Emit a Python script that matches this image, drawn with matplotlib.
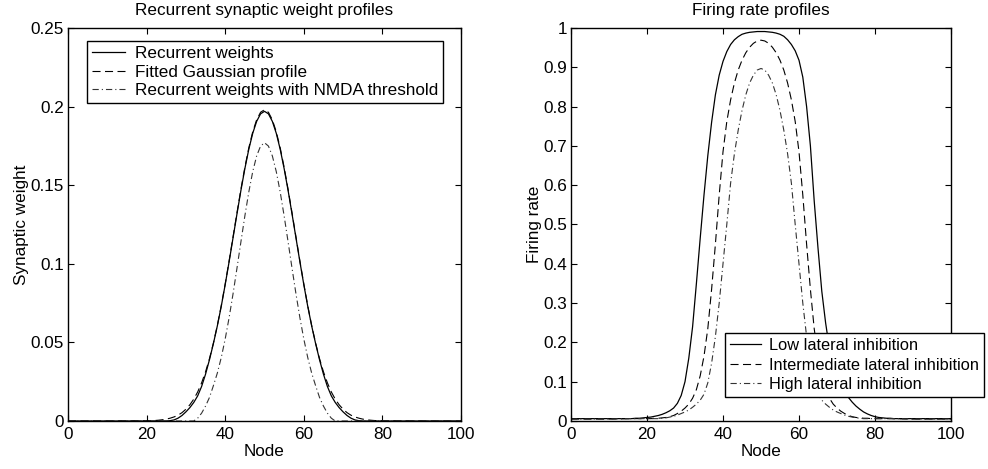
import numpy as np
import matplotlib
matplotlib.use("Agg")
import matplotlib.pyplot as plt
from matplotlib.ticker import FuncFormatter

plt.rcParams['font.family'] = ['Liberation Sans', 'DejaVu Sans']
plt.rcParams['lines.scale_dashes'] = False

# ---------------- Left panel data ----------------
left_nodes = np.concatenate(([0, 10], np.arange(20, 81), [90, 100]))

weights_recurrent = [0, 0,
    0, 0, 0, 0, 0, 0, 0.0002, 0.0007, 0.0018, 0.0035,
    0.0058, 0.0085, 0.0118, 0.0160, 0.0220, 0.0298, 0.0390, 0.0493, 0.0605, 0.0730,
    0.0868, 0.1014, 0.1166, 0.1318, 0.1467, 0.1605, 0.1728, 0.1830, 0.1906, 0.1954,
    0.1970,
    0.1954, 0.1906, 0.1830, 0.1728, 0.1605, 0.1467, 0.1318, 0.1166, 0.1014, 0.0868,
    0.0730, 0.0605, 0.0493, 0.0390, 0.0298, 0.0220, 0.0160, 0.0118, 0.0085, 0.0058,
    0.0035, 0.0018, 0.0007, 0.0002, 0, 0, 0, 0, 0, 0,
    0, 0]

weights_gaussian = [0, 0,
    0.0001, 0.0002, 0.0003, 0.0005, 0.0008, 0.0012, 0.0018, 0.0026, 0.0037, 0.0053,
    0.0075, 0.0103, 0.0139, 0.0185, 0.0243, 0.0313, 0.0397, 0.0496, 0.0608, 0.0734,
    0.0872, 0.1019, 0.1172, 0.1325, 0.1474, 0.1613, 0.1737, 0.1839, 0.1916, 0.1964,
    0.1980,
    0.1964, 0.1916, 0.1839, 0.1737, 0.1613, 0.1474, 0.1325, 0.1172, 0.1019, 0.0872,
    0.0734, 0.0608, 0.0496, 0.0397, 0.0313, 0.0243, 0.0185, 0.0139, 0.0103, 0.0075,
    0.0053, 0.0037, 0.0026, 0.0018, 0.0012, 0.0008, 0.0005, 0.0003, 0.0002, 0.0001,
    0, 0]

weights_nmda = [0, 0,
    0, 0, 0, 0, 0, 0, 0, 0, 0, 0,
    0, 0, 0, 0.0018, 0.0050, 0.0095, 0.0150, 0.0225, 0.0305, 0.0404,
    0.0522, 0.0658, 0.0810, 0.0973, 0.1140, 0.1304, 0.1456, 0.1586, 0.1686, 0.1749,
    0.1770,
    0.1749, 0.1686, 0.1586, 0.1456, 0.1304, 0.1140, 0.0973, 0.0810, 0.0658, 0.0522,
    0.0404, 0.0305, 0.0225, 0.0150, 0.0095, 0.0050, 0.0018, 0, 0, 0,
    0, 0, 0, 0, 0, 0, 0, 0, 0, 0,
    0, 0]

left_labels = ['Recurrent weights', 'Fitted Gaussian profile',
               'Recurrent weights with NMDA threshold']

# ---------------- Right panel data ----------------
right_nodes = np.concatenate(([0, 5, 10], np.arange(15, 86), [90, 95, 100]))

rate_low = [0.006, 0.006, 0.006,
    0.006, 0.006, 0.007, 0.007, 0.008,
    0.009, 0.010, 0.012, 0.014, 0.017, 0.021, 0.026, 0.033, 0.045, 0.065,
    0.100, 0.160, 0.240, 0.350, 0.465, 0.575, 0.675, 0.760, 0.830, 0.880,
    0.915, 0.940, 0.958, 0.970, 0.978, 0.984, 0.987, 0.989, 0.990, 0.991,
    0.991, 0.991, 0.990, 0.989, 0.987, 0.984, 0.979, 0.970, 0.958, 0.942,
    0.918, 0.875, 0.800, 0.700, 0.560, 0.440, 0.330, 0.250, 0.185, 0.140,
    0.110, 0.088, 0.072, 0.060, 0.048, 0.038, 0.030, 0.023, 0.018, 0.014,
    0.011, 0.009, 0.008, 0.007, 0.007, 0.006,
    0.006, 0.006, 0.006]

rate_mid = [0.005, 0.005, 0.005,
    0.006, 0.006, 0.006, 0.006, 0.006,
    0.006, 0.006, 0.007, 0.007, 0.008, 0.009, 0.011, 0.014, 0.019, 0.025,
    0.033, 0.043, 0.058, 0.080, 0.115, 0.165, 0.235, 0.335, 0.450, 0.575,
    0.685, 0.762, 0.817, 0.860, 0.893, 0.918, 0.937, 0.951, 0.961, 0.967,
    0.969, 0.967, 0.961, 0.951, 0.937, 0.918, 0.893, 0.860, 0.817, 0.762,
    0.685, 0.575, 0.450, 0.335, 0.235, 0.165, 0.115, 0.080, 0.058, 0.043,
    0.033, 0.025, 0.019, 0.014, 0.011, 0.009, 0.008, 0.007, 0.007, 0.006,
    0.006, 0.006, 0.006, 0.006, 0.006, 0.006,
    0.005, 0.005, 0.005]

rate_high = [0.005, 0.005, 0.005,
    0.006, 0.006, 0.006, 0.006, 0.006,
    0.006, 0.006, 0.006, 0.006, 0.007, 0.008, 0.010, 0.012, 0.015, 0.019,
    0.023, 0.028, 0.035, 0.043, 0.053, 0.068, 0.097, 0.147, 0.215, 0.300,
    0.400, 0.500, 0.605, 0.680, 0.740, 0.790, 0.830, 0.860, 0.880, 0.893,
    0.897, 0.893, 0.880, 0.860, 0.830, 0.790, 0.740, 0.680, 0.605, 0.500,
    0.400, 0.300, 0.215, 0.147, 0.097, 0.068, 0.053, 0.043, 0.035, 0.028,
    0.023, 0.019, 0.015, 0.012, 0.010, 0.008, 0.007, 0.006, 0.006, 0.006,
    0.006, 0.006, 0.006, 0.006, 0.006, 0.006,
    0.005, 0.005, 0.005]

right_labels = ['Low lateral inhibition', 'Intermediate lateral inhibition',
                'High lateral inhibition']

# ---------------- Figure ----------------
W, H = 988, 469
fig = plt.figure(figsize=(W / 100, H / 100), dpi=100)

def px_axes(x0, y0, x1, y1):
    return fig.add_axes([x0 / W, 1 - y1 / H, (x1 - x0) / W, (y1 - y0) / H])

axL = px_axes(68, 28, 461, 421)
axR = px_axes(571, 28, 951, 421)

FS = 12.3
FS_R_LEG = 11.8
dash = (0, (5.8, 3.2))
dashdot = (0, (4.5, 2.2, 0.8, 2.2))
styles = [dict(color='black', lw=0.9, linestyle='-'),
          dict(color='black', lw=0.8, linestyle=dash),
          dict(color='#333333', lw=0.8, linestyle=dashdot)]

for y, lab, st in zip([weights_recurrent, weights_gaussian, weights_nmda], left_labels, styles):
    axL.plot(left_nodes, y, label=lab, **st)
for y, lab, st in zip([rate_low, rate_mid, rate_high], right_labels, styles):
    axR.plot(right_nodes, y, label=lab, **st)

fmt = FuncFormatter(lambda v, p: ('%g' % round(v, 4)))
for ax, ymax, ystep in [(axL, 0.25, 0.05), (axR, 1.0, 0.1)]:
    ax.set_xlim(0, 100)
    ax.set_ylim(0, ymax)
    ax.set_xticks(np.arange(0, 101, 20))
    ax.set_yticks(np.arange(0, ymax + 1e-9, ystep))
    ax.yaxis.set_major_formatter(fmt)
    ax.tick_params(direction='in', top=True, right=True, length=4, width=0.8,
                   labelsize=FS, pad=4.5, colors='black')
    ax.tick_params(axis='y', pad=3)
    for s in ax.spines.values():
        s.set_linewidth(1.0)
    ax.set_xlabel('Node', fontsize=FS, labelpad=1.5)

axL.set_ylabel('Synaptic weight', fontsize=FS, labelpad=1)
axR.set_ylabel('Firing rate', fontsize=FS, labelpad=1)
axL.set_title('Recurrent synaptic weight profiles', fontsize=FS, pad=9)
axR.set_title('Firing rate profiles', fontsize=FS, pad=9)

legkw = dict(loc='upper left', borderaxespad=0, fancybox=False,
             framealpha=1, edgecolor='black', handlelength=1.9,
             borderpad=0.3)
lgL = axL.legend(bbox_to_anchor=((87 - 68) / 393, (421 - 41) / 393),
                 fontsize=FS, handletextpad=0.6, labelspacing=0.2, **legkw)
lgR = axR.legend(bbox_to_anchor=((725 - 571) / 380, (421 - 333) / 393),
                 fontsize=FS_R_LEG, handletextpad=0.5, labelspacing=0.28, **legkw)
for lg in (lgL, lgR):
    lg.get_frame().set_linewidth(1.0)

fig.savefig('out.png', dpi=100)
